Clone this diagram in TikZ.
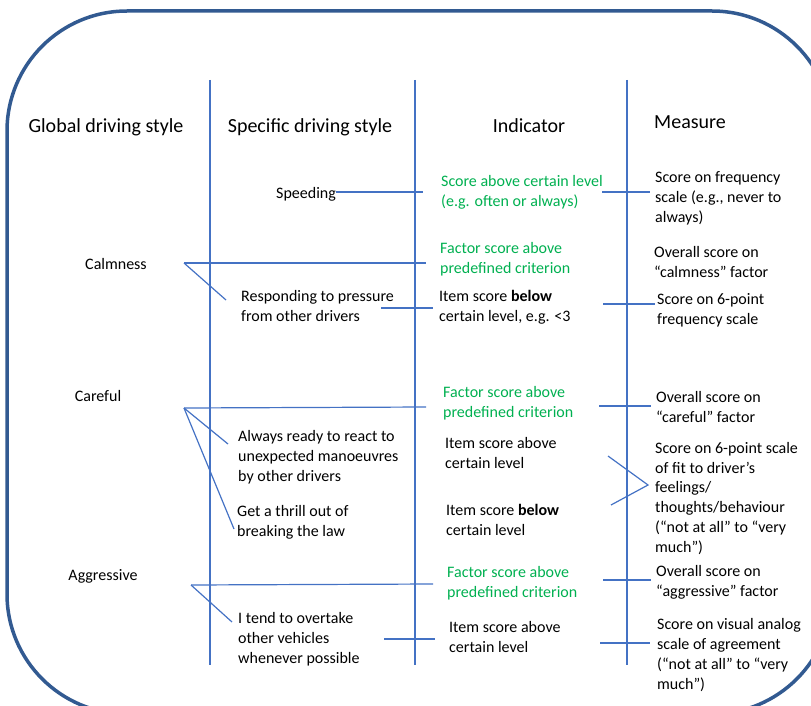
\documentclass[tikz,border=0pt]{standalone}
\usepackage{fontspec}
\setmainfont{Carlito}
\usetikzlibrary{positioning}
\definecolor{ruleblue}{RGB}{68,114,196}
\definecolor{framebl}{RGB}{50,90,145}
\definecolor{indgreen}{RGB}{0,176,80}

\begin{document}
\begin{tikzpicture}[x=1pt, y=-1pt,
    head/.style={anchor=base, font=\fontsize{20}{24}\selectfont, inner sep=0pt},
    goal/.style={anchor=base, font=\fontsize{16}{19.7}\selectfont, inner sep=0pt},
    item/.style={anchor=base west, align=left, font=\fontsize{16}{19.7}\selectfont, inner sep=0pt},
    crit/.style={item, text=indgreen},
    link/.style={ruleblue, line width=1.2pt},
    frame/.style={framebl, line width=3.5pt, rounded corners=120pt}
  ]
    \useasboundingbox (0,0) rectangle (811,706);
    \begin{scope}
      \clip (0,0) rectangle (811,706);
      \draw[frame] (7,11) rectangle (832,714);
    \end{scope}

    % column rules
    \foreach \x/\n in {210/ra, 415/rb, 627/rc} {
      \coordinate (\n-top) at (\x,80);
      \coordinate (\n-bot) at (\x,665);
      \draw[link] (\n-top) -- (\n-bot);
    }

    % headings
    \node[head] (glob) at (106,133) {Global driving style};
    \node[head] (spec) at (310,133) {Specific driving style};
    \node[head] (ind)  at (529,132) {Indicator};
    \node[head] (meas) at (690,129) {Measure};

    % global styles
    \node[goal] (calm)  at (116,269) {Calmness};
    \node[goal] (care)  at (98,401)  {Careful};
    \node[goal] (aggr)  at (103,580) {Aggressive};

    % specific styles (placed at the baseline of the last line)
    \node[item] (speed)  at (276,198) {Speeding};
    \node[item] (resp)   at (241,321) {Responding to pressure\\from other drivers};
    \node[item] (ready)  at (238,481) {Always ready to react to\\unexpected manoeuvres\\by other drivers};
    \node[item] (thrill) at (237,536) {Get a thrill out of\\breaking the law};
    \node[item] (overt)  at (238,663) {I tend to overtake\\other vehicles\\whenever possible};

    % indicators
    \node[crit] (ind1) at (441,206) {Score above certain level\\(e.g. often or always)};
    \node[crit] (ind2) at (440,273) {Factor score above\\predefined criterion};
    \node[item] (ind3) at (439,321) {Item score \textbf{below}\\certain level, e.g. <3};
    \node[crit] (ind4) at (443,417) {Factor score above\\predefined criterion};
    \node[item] (ind5) at (445,468) {Item score above\\certain level};
    \node[item] (ind6) at (446,535) {Item score \textbf{below}\\certain level};
    \node[crit] (ind7) at (447,597) {Factor score above\\predefined criterion};
    \node[item] (ind8) at (449,652) {Item score above\\certain level};

    % measures
    \node[item] (m1) at (655,222) {Score on frequency\\scale (e.g., never to\\always)};
    \node[item] (m2) at (654,277) {Overall score on\\“calmness” factor};
    \node[item] (m3) at (657,324) {Score on 6-point\\frequency scale};
    \node[item] (m4) at (656,422) {Overall score on\\“careful” factor};
    \node[item] (m5) at (655,552) {Score on 6-point scale\\of fit to driver’s\\feelings/\\thoughts/behaviour\\(“not at all” to “very\\much”)};
    \node[item] (m6) at (656,596) {Overall score on\\“aggressive” factor};
    \node[item] (m7) at (657,689) {Score on visual analog\\scale of agreement\\(“not at all” to “very\\much”)};

    % line ends
    \coordinate (calm-hub) at (184,263);
    \coordinate (care-hub) at (184,408);
    \coordinate (aggr-hub) at (191,585);
    \coordinate (speed-r) at (423,192);
    \coordinate (calm-r)  at (426,263);
    \coordinate (resp-l)  at (226,300);
    \coordinate (resp-a)  at (381,308);
    \coordinate (resp-b)  at (433,308);
    \coordinate (care-r)  at (426,407);
    \coordinate (ready-l) at (228,444);
    \coordinate (thrill-l) at (234,529);
    \coordinate (aggr-r)  at (433,584);
    \coordinate (overt-l) at (232,622);
    \coordinate (overt-a) at (384,639);
    \coordinate (overt-b) at (435,639);
    \coordinate (m1-a) at (602,192);  \coordinate (m1-b) at (650,192);
    \coordinate (m3-a) at (603,304);  \coordinate (m3-b) at (655,304);
    \coordinate (m4-a) at (599,406);  \coordinate (m4-b) at (651,406);
    \coordinate (m5-a) at (608,456);  \coordinate (m5-b) at (648,485);
    \coordinate (m5-c) at (611,505);
    \coordinate (m6-a) at (603,580);  \coordinate (m6-b) at (651,580);
    \coordinate (m7-a) at (600,643);  \coordinate (m7-b) at (650,643);

    % connectors
    \draw[link] (speed-r -| speed.east) -- (speed-r);
    \draw[link] (calm-hub) -- (calm-r);
    \draw[link] (calm-hub) -- (resp-l);
    \draw[link] (resp-a) -- (resp-b);
    \draw[link] (care-hub) -- (care-r);
    \draw[link] (care-hub) -- (ready-l);
    \draw[link] (care-hub) -- (thrill-l);
    \draw[link] (aggr-hub) -- (aggr-r);
    \draw[link] (aggr-hub) -- (overt-l);
    \draw[link] (overt-a) -- (overt-b);
    \draw[link] (m1-a) -- (m1-b);
    \draw[link] (m3-a) -- (m3-b);
    \draw[link] (m4-a) -- (m4-b);
    \draw[link] (m5-a) -- (m5-b) -- (m5-c);
    \draw[link] (m6-a) -- (m6-b);
    \draw[link] (m7-a) -- (m7-b);
  \end{tikzpicture}
\end{document}
